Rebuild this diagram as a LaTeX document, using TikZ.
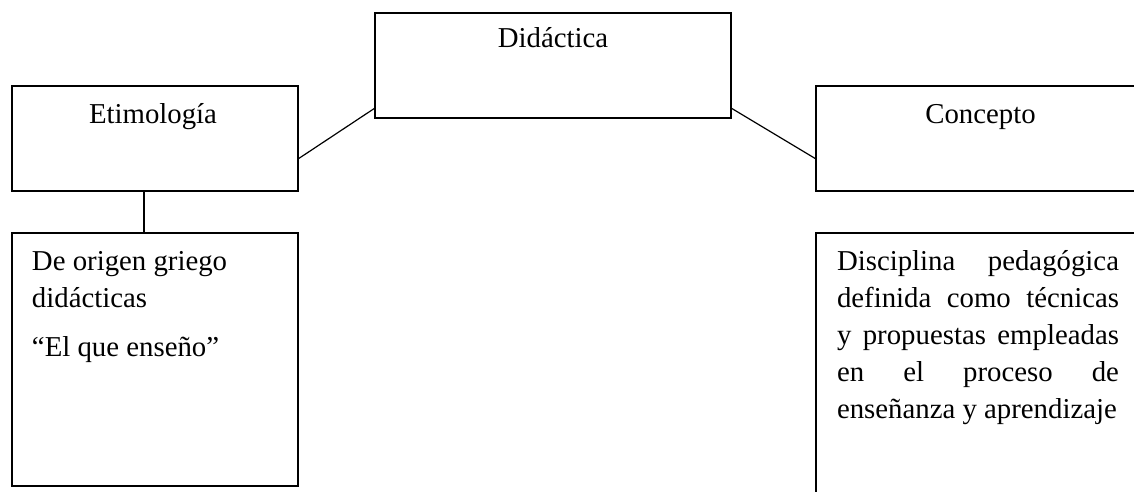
\documentclass[tikz,border=0pt]{standalone}
\usepackage{fontspec}
\setmainfont{Liberation Serif}
\begin{document}
\begin{tikzpicture}[x=0.5pt,y=-0.5pt,
  box/.style={draw, line width=0.6pt, rectangle, inner sep=0pt, outer sep=0pt, anchor=north west},
  lbl/.style={inner sep=0pt, outer sep=0pt, anchor=base, font=\fontsize{14.4pt}{18.5pt}\selectfont},
  body/.style={inner sep=0pt, outer sep=0pt, anchor=base west, font=\fontsize{14.4pt}{18.5pt}\selectfont},
  link/.style={line width=0.6pt}]
\useasboundingbox (0,0) rectangle (1134,492);
\clip (0,0) rectangle (1134,492);
% boxes
\node[box, minimum width=178pt, minimum height=52.5pt] (did) at (375,13) {};
\node[box, minimum width=143pt, minimum height=52.5pt] (eti) at (12,86) {};
\node[box, minimum width=165pt, minimum height=52.5pt] (con) at (816,86) {};
\node[box, minimum width=143pt, minimum height=126.5pt] (ori) at (12,233) {};
\node[box, minimum width=165pt, minimum height=140pt] (dis) at (816,233) {};
% titles
\node[lbl] (tdid) at (553,47.7) {Didáctica};
\node[lbl] (teti) at (153,123.3) {Etimología};
\node[lbl] (tcon) at (980.5,123.3) {Concepto};
% body texts
\node[body] (tori) at (32,270) {\parbox[t]{140pt}{\raggedright De origen griego\\ didácticas\par\vspace{6pt}“El que enseño”}};
\node[body] (tdis) at (837,270) {\parbox[t]{141pt}{Disciplina pedagógica\linebreak definida como técnicas\linebreak y propuestas empleadas\linebreak en el proceso de\linebreak enseñanza y aprendizaje}};
% connectors
\draw[link] ([yshift=16pt]eti.south east) -- ([yshift=5pt]did.south west);
\draw[link] ([yshift=5pt]did.south east) -- ([yshift=16pt]con.south west);
\draw[link] ([xshift=-5.5pt]eti.south) -- ([xshift=-5.5pt]ori.north);
\end{tikzpicture}
\end{document}
